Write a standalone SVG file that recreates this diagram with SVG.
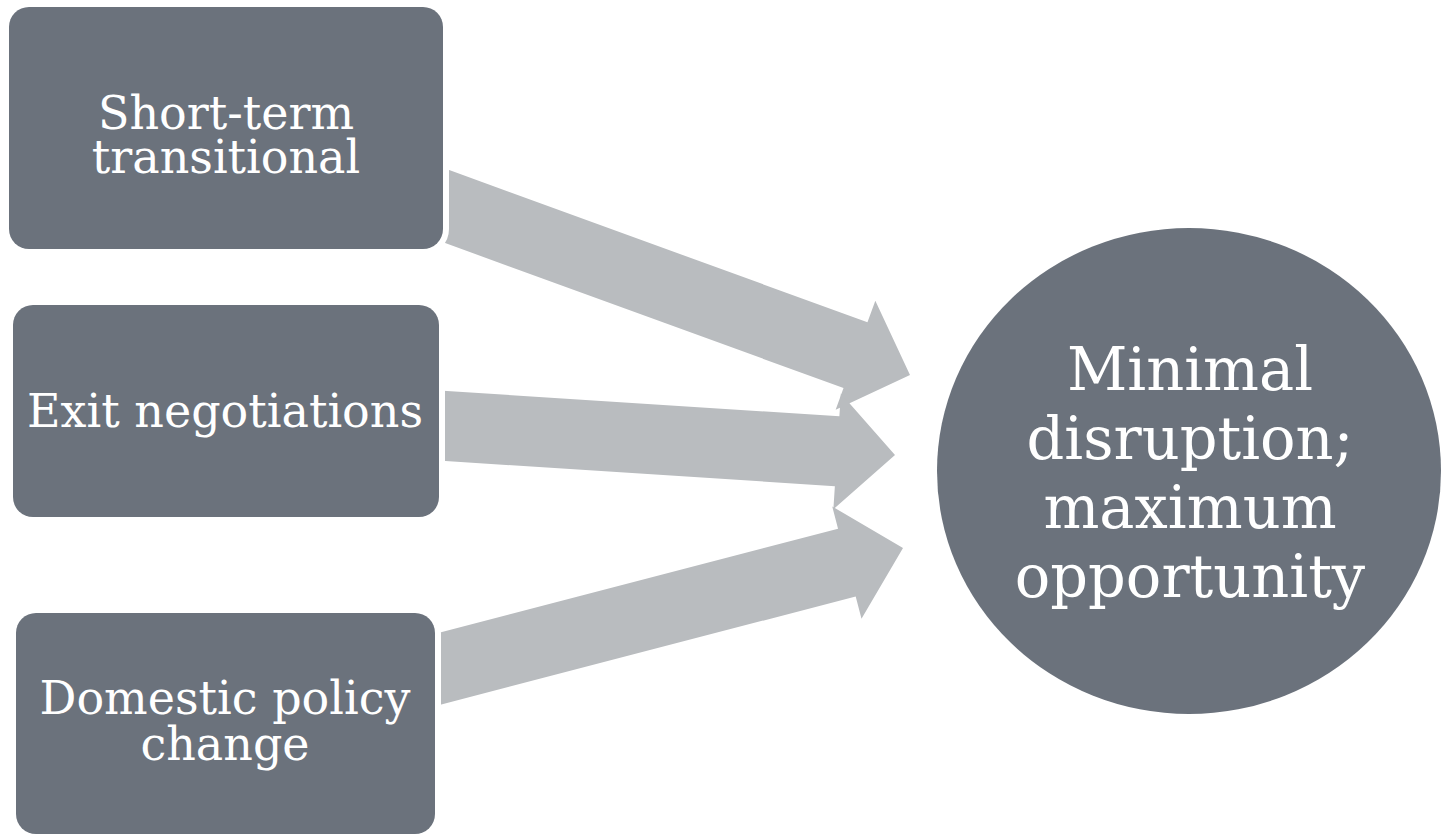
<svg xmlns="http://www.w3.org/2000/svg" width="1446" height="836" viewBox="0 0 1446 836">
  <style>
    .arrow { fill: #b9bcbf; }
    .box { fill: #6b727c; stroke: #ffffff; stroke-width: 12; paint-order: stroke fill; }
    .hub { fill: #6b727c; }
    .lbl { font-family: "DejaVu Serif", "Liberation Serif", serif; fill: #ffffff; text-anchor: middle; }
    .s46 { font-size: 46px; }
    .s59 { font-size: 59px; }
  </style>
  <rect width="1446" height="836" fill="#ffffff"/>
  <g id="connectors">
    <polygon class="arrow" transform="translate(910,375) rotate(20)" points="0,0 -58,-58 -58,-35 -530,-35 -530,35 -58,35 -58,58"/>
    <polygon class="arrow" transform="translate(895,455) rotate(3.7)" points="0,0 -58,-58 -58,-35 -471,-35 -471,35 -58,35 -58,58"/>
    <polygon class="arrow" transform="translate(903,548) rotate(-14.6)" points="0,0 -58,-58 -58,-35 -500,-35 -500,35 -58,35 -58,58"/>
  </g>
  <g id="node-short-term">
    <rect class="box" x="9" y="7" width="434" height="242" rx="20" ry="20"/>
    <text class="lbl s46" x="226" y="129">Short-term</text>
    <text class="lbl s46" x="226" y="173">transitional</text>
  </g>
  <g id="node-exit">
    <rect class="box" x="13" y="305" width="426" height="212" rx="20" ry="20"/>
    <text class="lbl s46" x="225" y="427">Exit negotiations</text>
  </g>
  <g id="node-domestic">
    <rect class="box" x="16" y="613" width="419" height="221" rx="20" ry="20"/>
    <text class="lbl s46" x="225" y="714">Domestic policy</text>
    <text class="lbl s46" x="225" y="760">change</text>
  </g>
  <g id="node-outcome">
    <ellipse class="hub" cx="1189" cy="471" rx="252" ry="243"/>
    <text class="lbl s59" x="1190" y="390">Minimal</text>
    <text class="lbl s59" x="1190" y="459">disruption;</text>
    <text class="lbl s59" x="1190" y="528">maximum</text>
    <text class="lbl s59" x="1190" y="597">opportunity</text>
  </g>
</svg>
